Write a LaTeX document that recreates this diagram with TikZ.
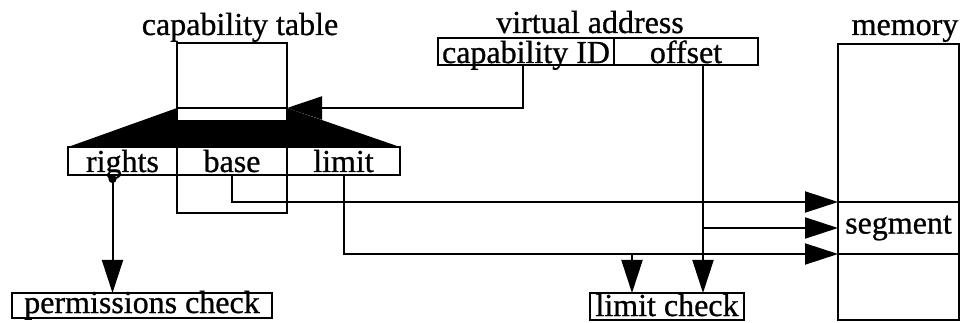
\documentclass[tikz,border=0pt]{standalone}
\usepackage{fontspec}
\setmainfont[FakeBold=0.8]{Liberation Serif}
\usetikzlibrary{arrows.meta,positioning,backgrounds}
\tikzset{
  cell/.style={draw, rectangle, inner sep=0pt, outer sep=0pt},
  field/.style={cell, text height=25pt, text depth=3pt},
  title/.style={anchor=base, inner sep=0pt},
  tip/.style={-{Triangle[length=33pt,width=21pt]}},
}

\begin{document}
\begin{tikzpicture}[x=1pt,y=-1pt,line width=2pt,font=\fontsize{32}{32}\selectfont]
\useasboundingbox (0,0) rectangle (964,323);
% capability table
\node (tbl) [cell, minimum width=110pt, minimum height=170pt] at (232,128) {};
\node (tbltitle) [title] at (240,35) {capability table};
\node (entry) [cell, fill=white, minimum width=110pt, minimum height=13pt] at (232,114.5) {};
\node (rights) [field, minimum width=109pt] at (122.5,161) {rights};
\node (base) [field, minimum width=110pt, right=0pt of rights] {base};
\node (limit) [field, minimum width=113pt, right=0pt of base] {limit};
\begin{scope}[on background layer]
  \fill (entry.north west) -- (entry.north east) -- (limit.north east) -- (rights.north west) -- cycle;
\end{scope}
% virtual address
\node (vatitle) [title] at (590,33) {virtual address};
\node (capid) [cell, text height=25pt, text depth=2pt, minimum width=176pt] at (526,51.5) {capability ID};
\node (offset) [cell, text height=25pt, text depth=2pt, minimum width=144pt, right=0pt of capid] {offset};
% memory
\node (mem) [cell, minimum width=121pt, minimum height=276pt] at (898.5,182) {};
\node (memtitle) [title] at (905,35) {memory};
\node (segment) [cell, minimum width=121pt, minimum height=52pt] at (898.5,228) {segment};
% checks
\node (perm) [cell, text height=20pt, text depth=5pt, minimum width=260pt] at (142,305.5) {permissions check};
\node (limchk) [cell, text height=23pt, text depth=4pt, minimum width=154pt] at (667,306.5) {limit check};
% connectors
\draw[-{Triangle[length=35pt,width=23pt]}] ([xshift=-3pt]capid.south) |- (entry.north east);
\draw[{Circle[length=8pt]}-{Triangle[length=33pt,width=21pt]}] ([xshift=-10pt]rights.south) coordinate (rs) -- (rs |- perm.north);
\draw[tip] (base.south) |- (segment.north west);
\draw[tip] (limit.south) |- (segment.south west);
\coordinate (lk) at ([xshift=-35pt]limchk.north);
\draw[tip] (lk |- segment.south west) -- (lk);
\coordinate (of) at ([xshift=17pt]offset.south);
\draw[tip] (of) -- (of |- limchk.north);
\draw[tip] (of |- segment.west) -- (segment.west);
\end{tikzpicture}
\end{document}
